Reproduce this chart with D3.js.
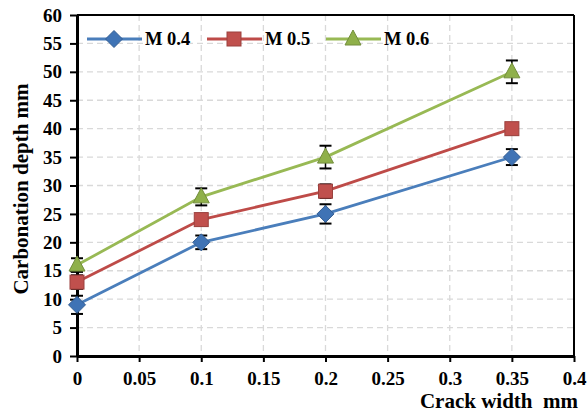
<!DOCTYPE html>
<html><head><meta charset="utf-8">
<script src="https://cdn.jsdelivr.net/npm/d3@7"></script>
<style>body{margin:0;background:#fff}svg{display:block}</style>
</head><body>
<script>
const crackWidth = [0, 0.1, 0.2, 0.35];
const seriesNames = ["M 0.4", "M 0.5", "M 0.6"];
const m04 = [9, 20, 25, 35];
const m05 = [13, 24, 29, 40];
const m06 = [16, 28, 35, 50];
const err04 = [1.6, 1.2, 1.7, 1.4];
const err05 = [1.2, 1.0, 1.2, 1.0];
const err06 = [1.2, 1.5, 2.0, 2.0];
const xTicks = [0, 0.05, 0.1, 0.15, 0.2, 0.25, 0.3, 0.35, 0.4];
const yTicks = [0, 5, 10, 15, 20, 25, 30, 35, 40, 45, 50, 55, 60];

const colors = ["#4a7ebb", "#be4b48", "#98b954"];
const fills = ["#3f73b5", "#c0504d", "#8fb04a"];
const series = [m04, m05, m06].map((v, i) => ({name: seriesNames[i], values: v, err: [err04, err05, err06][i], color: colors[i], fill: fills[i], shape: ["diamond","square","triangle"][i]}));

const W = 587, H = 414;
const svg = d3.select("body").append("svg").attr("width", W).attr("height", H);
const pL = 77, pR = 574, pT = 15, pB = 356;
const x = d3.scaleLinear().domain([0, 0.4]).range([pL, pR]);
const y = d3.scaleLinear().domain([0, 60]).range([pB, pT]);
const font = "'Liberation Serif','Times New Roman',serif";

// grid
const g = svg.append("g");
g.selectAll(".hg").data(yTicks.filter(d => d > 0)).enter().append("line")
  .attr("x1", pL).attr("x2", pR).attr("y1", d => y(d)).attr("y2", d => y(d))
  .attr("stroke", "#d9d9d9").attr("stroke-width", 1.3).attr("stroke-dasharray", "6,4");
g.selectAll(".vg").data(xTicks.filter(d => d > 0)).enter().append("line")
  .attr("y1", pT).attr("y2", pB).attr("x1", d => x(d)).attr("x2", d => x(d))
  .attr("stroke", "#d9d9d9").attr("stroke-width", 1.3).attr("stroke-dasharray", "6,4");

// frame top/right
svg.append("line").attr("x1", pL).attr("x2", pR).attr("y1", pT).attr("y2", pT).attr("stroke", "#000").attr("stroke-width", 2);
svg.append("line").attr("x1", pR).attr("x2", pR).attr("y1", pT).attr("y2", pB).attr("stroke", "#000").attr("stroke-width", 2);

// axes
const xAxis = svg.append("g").attr("transform", `translate(0,${pB})`)
  .call(d3.axisBottom(x).tickValues(xTicks).tickSize(6).tickPadding(10).tickSizeOuter(0).tickFormat(d => String(+d.toFixed(2))));
const yAxis = svg.append("g").attr("transform", `translate(${pL},0)`)
  .call(d3.axisLeft(y).tickValues(yTicks).tickSize(7).tickPadding(8).tickSizeOuter(0));
[xAxis, yAxis].forEach(a => {
  a.select(".domain").attr("stroke", "#000").attr("stroke-width", 3);
  a.selectAll(".tick line").attr("stroke", "#000").attr("stroke-width", 2);
  a.selectAll("text").attr("font-family", font).attr("font-weight", "bold").attr("font-size", 19).attr("fill", "#000");
});

// axis titles
svg.append("text").attr("x", 578).attr("y", 408).attr("text-anchor", "end")
  .attr("font-family", font).attr("font-weight", "bold").attr("font-size", 21)
  .text("Crack width\u00a0\u00a0mm");
svg.append("text").attr("transform", `translate(28,${189}) rotate(-90)`).attr("text-anchor", "middle")
  .attr("font-family", font).attr("font-weight", "bold").attr("font-size", 21).text("Carbonation depth mm");

const line = d3.line().x((d, i) => x(crackWidth[i])).y(d => y(d));

function marker(sel, shape, fill, stroke) {
  if (shape === "diamond") sel.append("path").attr("d", "M0,-8.5L8.5,0L0,8.5L-8.5,0Z");
  else if (shape === "square") sel.append("rect").attr("x", -7).attr("y", -7).attr("width", 14).attr("height", 14);
  else sel.append("path").attr("d", "M0,-9L8,6L-8,6Z");
  sel.selectAll("path,rect").attr("fill", fill).attr("stroke", stroke).attr("stroke-width", 1);
}

series.forEach(s => {
  svg.append("path").datum(s.values).attr("d", line).attr("fill", "none").attr("stroke", s.color).attr("stroke-width", 2.8);
  const eb = svg.append("g");
  s.values.forEach((v, i) => {
    const cx = x(crackWidth[i]);
    eb.append("line").attr("x1", cx).attr("x2", cx).attr("y1", y(v + s.err[i])).attr("y2", y(v - s.err[i])).attr("stroke", "#000").attr("stroke-width", 1.5);
    [v + s.err[i], v - s.err[i]].forEach(e => eb.append("line").attr("x1", cx - 6).attr("x2", cx + 6).attr("y1", y(e)).attr("y2", y(e)).attr("stroke", "#000").attr("stroke-width", 2));
  });
});
series.forEach(s => {
  s.values.forEach((v, i) => {
    const m = svg.append("g").attr("transform", `translate(${x(crackWidth[i])},${y(v)})`);
    marker(m, s.shape, s.fill, d3.color(s.fill).darker(0.6));
  });
});

// legend
const legX = [87, 207, 326];
series.forEach((s, i) => {
  const lg = svg.append("g").attr("transform", `translate(${legX[i]},39)`);
  lg.append("line").attr("x1", 0).attr("x2", 55).attr("stroke", s.color).attr("stroke-width", 2.8);
  const m = lg.append("g").attr("transform", "translate(27,0)");
  marker(m, s.shape, s.fill, d3.color(s.fill).darker(0.6));
  lg.append("text").attr("x", 58).attr("y", 6).attr("font-family", font).attr("font-weight", "bold").attr("font-size", 18.5).text(s.name);
});
</script>
</body></html>
